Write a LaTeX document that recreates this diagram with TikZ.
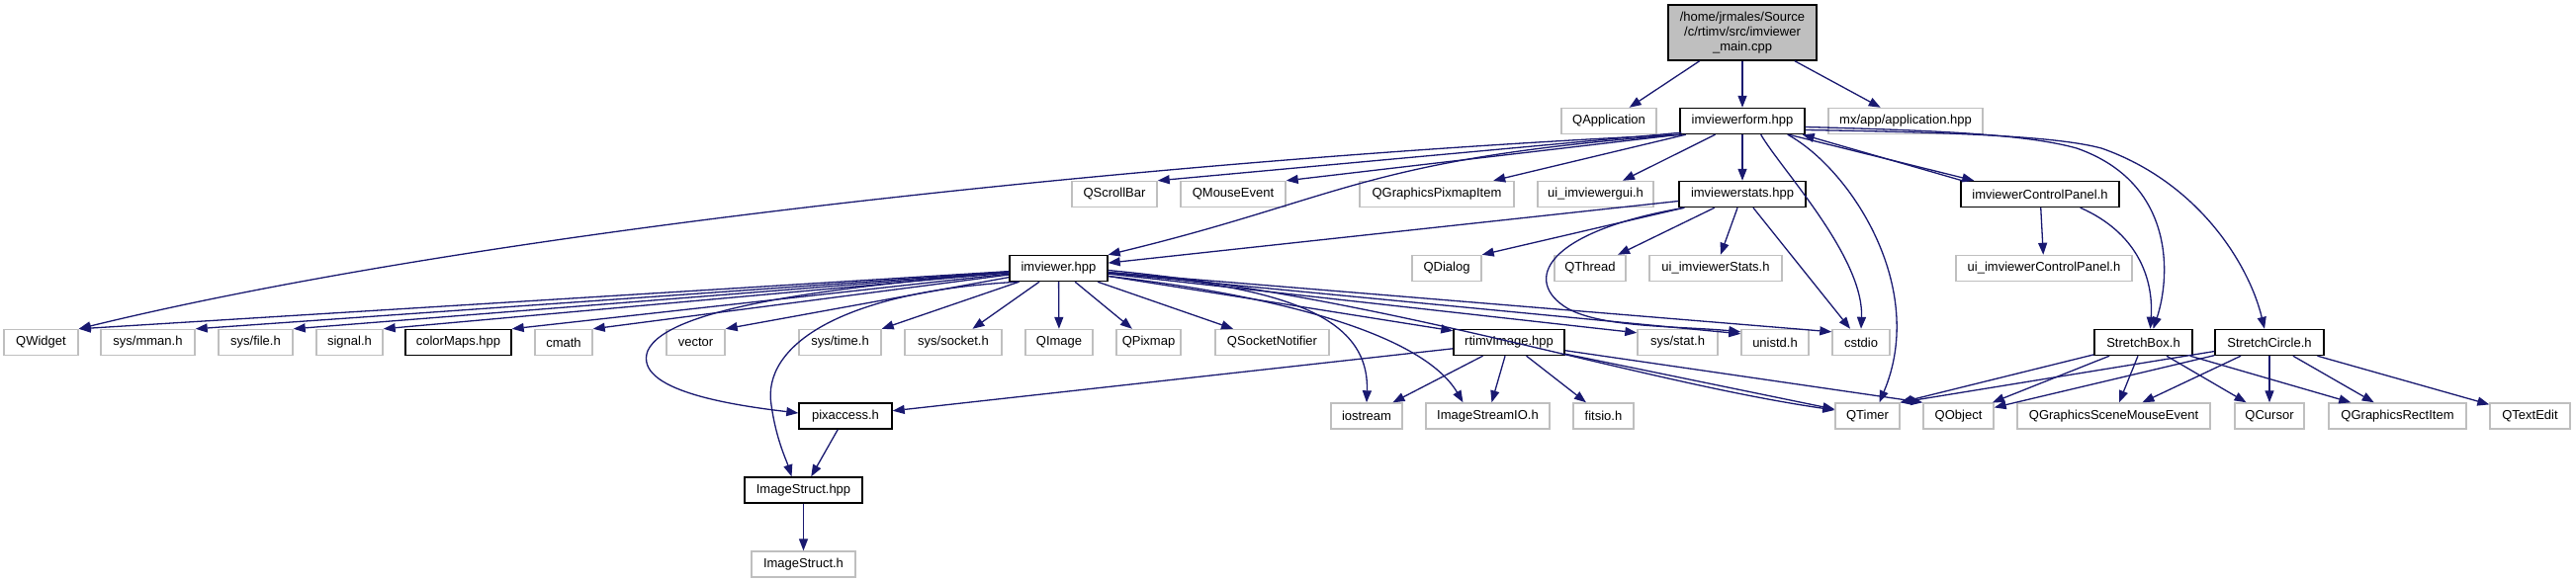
\documentclass[tikz,border=0pt]{standalone}
\usepackage{fontspec}
\setmainfont{Liberation Sans}
\usetikzlibrary{arrows.meta,calc}
\definecolor{edgeblue}{HTML}{191970}
\definecolor{greyline}{HTML}{BFBFBF}
\begin{document}
\begin{tikzpicture}[x=1pt,y=-1pt,
  box/.style={draw=black,line width=1.4pt,minimum height=26pt,inner sep=0pt,fill=white,font=\fontsize{13}{15}\selectfont},
  gbox/.style={box,draw=greyline},
  edge/.style={draw=edgeblue,line width=1.3pt,-{Triangle[length=12pt,width=9pt]}}]
\useasboundingbox (0,0) rectangle (2605,589);

% row 1
\node[box,fill=greyline,align=center,minimum width=150pt,minimum height=56pt] (main) at (1762,33) {/home/jrmales/Source\\/c/rtimv/src/imviewer\\\_main.cpp};
% row 2
\node[gbox,minimum width=96pt] (qapp) at (1627,122.5) {QApplication};
\node[box,minimum width=126pt] (form) at (1762,122.5) {imviewerform.hpp};
\node[gbox,minimum width=156pt] (mxapp) at (1927,122.5) {mx/app/application.hpp};
% row 3
\node[gbox,minimum width=86pt] (qscroll) at (1127,196.5) {QScrollBar};
\node[gbox,minimum width=106pt] (qmouse) at (1247,196.5) {QMouseEvent};
\node[gbox,minimum width=156pt] (qgpix) at (1453,196.5) {QGraphicsPixmapItem};
\node[gbox,minimum width=117pt] (uigui) at (1613.5,196.5) {ui\_imviewergui.h};
\node[box,minimum width=128pt] (stats) at (1762,196.5) {imviewerstats.hpp};
\node[box,minimum width=160pt] (cp) at (2063,196.5) {imviewerControlPanel.h};
% row 4
\node[box,minimum width=99pt] (imviewer) at (1070.5,271.5) {imviewer.hpp};
\node[gbox,minimum width=70pt] (qdialog) at (1463,271.5) {QDialog};
\node[gbox,minimum width=72pt] (qthread) at (1608,271.5) {QThread};
\node[gbox,minimum width=134pt] (uistats) at (1735,271.5) {ui\_imviewerStats.h};
\node[gbox,minimum width=178pt] (uicp) at (2067,271.5) {ui\_imviewerControlPanel.h};
% row 5
\node[gbox,minimum width=75pt] (qwidget) at (41.5,346.5) {QWidget};
\node[gbox,minimum width=95pt] (mman) at (149.5,346.5) {sys/mman.h};
\node[gbox,minimum width=75pt] (sysfile) at (258.5,346.5) {sys/file.h};
\node[gbox,minimum width=67pt] (signal) at (353.5,346.5) {signal.h};
\node[box,minimum width=107pt] (colormaps) at (463.5,346.5) {colorMaps.hpp};
\node[gbox,minimum width=58pt] (cmath) at (570,346.5) {cmath};
\node[gbox,minimum width=59pt] (vector) at (703.5,346.5) {vector};
\node[gbox,minimum width=83pt] (systime) at (849.5,346.5) {sys/time.h};
\node[gbox,minimum width=98pt] (syssocket) at (964,346.5) {sys/socket.h};
\node[gbox,minimum width=68pt] (qimage) at (1071,346.5) {QImage};
\node[gbox,minimum width=65pt] (qpixmap) at (1161.5,346.5) {QPixmap};
\node[gbox,minimum width=115pt] (qsock) at (1286.5,346.5) {QSocketNotifier};
\node[box,minimum width=112pt] (rtimv) at (1526,346.5) {rtimvImage.hpp};
\node[gbox,minimum width=81pt] (sysstat) at (1696.5,346.5) {sys/stat.h};
\node[gbox,minimum width=68pt] (unistd) at (1795,346.5) {unistd.h};
\node[gbox,minimum width=58pt] (cstdio) at (1882,346.5) {cstdio};
\node[box,minimum width=99pt] (sbox) at (2167.5,346.5) {StretchBox.h};
\node[box,minimum width=110pt] (scirc) at (2295,346.5) {StretchCircle.h};
% row 6
\node[box,minimum width=94pt] (pix) at (855,421) {pixaccess.h};
\node[gbox,minimum width=72pt] (iostream) at (1382,421) {iostream};
\node[gbox,minimum width=125pt] (isio) at (1504.5,421) {ImageStreamIO.h};
\node[gbox,minimum width=61pt] (fitsio) at (1621.5,421) {fitsio.h};
\node[gbox,minimum width=65pt] (qtimer) at (1888.5,421) {QTimer};
\node[gbox,minimum width=71pt] (qobject) at (1980.5,421) {QObject};
\node[gbox,minimum width=195pt] (qgsme) at (2137.5,421) {QGraphicsSceneMouseEvent};
\node[gbox,minimum width=70pt] (qcursor) at (2295,421) {QCursor};
\node[gbox,minimum width=139pt] (qgrect) at (2424.5,421) {QGraphicsRectItem};
\node[gbox,minimum width=81pt] (qtextedit) at (2558.5,421) {QTextEdit};
% row 7, 8
\node[box,minimum width=119pt] (isthpp) at (812.5,496) {ImageStruct.hpp};
\node[gbox,minimum width=105pt] (isth) at (812.5,571) {ImageStruct.h};

% main
\draw[edge] (main) -- (qapp);
\draw[edge] (main) -- (form);
\draw[edge] (main) -- (mxapp);
% imviewerform.hpp
\draw[edge] (form.south west) .. controls (1200,160) and (500,230) .. (qwidget.north east);
\draw[edge] ($(form.south west)+(2,-2)$) -- (qscroll.north east);
\draw[edge] (form.south west) -- (qmouse.north east);
\draw[edge] (form) -- (qgpix);
\draw[edge] (form) -- (uigui);
\draw[edge] (form) -- (stats);
\draw[edge] ($(form.south west)+(3,0)$) .. controls (1380,160) and (1360,200) .. (imviewer.north east);
\draw[edge] ($(form.south east)+(-45,0)$) .. controls (1800,170) and (1885,260) .. (cstdio.north);
\draw[edge] ($(form.south east)+(-18,0)$) .. controls (1870,170) and (1950,290) .. ($(qtimer.north)+(12,0)$);
\draw[edge] ($(form.south east)+(-17,0)$) -- ($(cp.north west)+(14,0)$);
\draw[edge] ($(form.east)+(0,6)$) .. controls (1960,132) and (2050,136) .. (2100,150) .. controls (2200,185) and (2195,280) .. ($(sbox.north)+(10,0)$);
\draw[edge] ($(form.east)+(0,9)$) .. controls (1980,134) and (2080,138) .. (2125,150) .. controls (2225,185) and (2275,270) .. ($(scirc.north)+(-5,0)$);
% imviewerstats.hpp
\draw[edge] (stats) -- (imviewer);
\draw[edge] (stats) -- (qdialog.north east);
\draw[edge] (stats) -- (qthread);
\draw[edge] (stats) -- (uistats);
\draw[edge] (stats) -- (cstdio);
\draw[edge] ($(stats.south west)+(6,0)$) .. controls (1560,235) and (1540,285) .. (1585,312) .. controls (1620,332) and (1700,330) .. ($(unistd.north west)+(0,3)$);
% imviewerControlPanel.h
\draw[edge] ($(cp.north west)+(2,0)$) -- ($(form.south east)+(-3,0)$);
\draw[edge] (cp) -- (uicp);
\draw[edge] ($(cp.south east)+(-40,0)$) .. controls (2160,235) and (2178,280) .. ($(sbox.north)+(7,0)$);
% imviewer.hpp
\draw[edge] (imviewer) -- (qwidget.north east);
\draw[edge] (imviewer) -- (mman.north east);
\draw[edge] (imviewer) -- (sysfile.north east);
\draw[edge] (imviewer) -- (signal.north east);
\draw[edge] (imviewer) -- (colormaps.north east);
\draw[edge] (imviewer) -- (cmath.north east);
\draw[edge] (imviewer) -- (vector.north east);
\draw[edge] (imviewer) -- (systime.north east);
\draw[edge] (imviewer) -- (syssocket);
\draw[edge] (imviewer) -- (qimage);
\draw[edge] (imviewer) -- (qpixmap);
\draw[edge] (imviewer) -- (qsock);
\draw[edge] (imviewer) -- ($(rtimv.north west)+(0,2)$);
\draw[edge] (imviewer) -- ($(sysstat.north west)+(0,4)$);
\draw[edge] (imviewer) -- ($(unistd.north west)+(0,5)$);
\draw[edge] (imviewer) -- ($(cstdio.north west)+(0,3)$);
\draw[edge] ($(imviewer.east)+(0,4)$) .. controls (1300,290) and (1385,320) .. (iostream.north);
\draw[edge] ($(imviewer.east)+(0,8)$) .. controls (1300,300) and (1440,340) .. ($(isio.north)+(-25,0)$);
\draw[edge] ($(imviewer.east)+(0,2)$) .. controls (1400,300) and (1650,385) .. ($(qtimer.west)+(0,-6)$);
\draw[edge] ($(imviewer.west)+(0,4)$) .. controls (850,290) and (675,310) .. (655,355) .. controls (640,395) and (740,410) .. ($(pix.west)+(0,-3)$);
\draw[edge] ($(imviewer.south west)+(10,0)$) .. controls (850,295) and (770,350) .. (780,410) .. controls (785,445) and (795,465) .. ($(isthpp.north)+(-12,0)$);
% rtimvImage.hpp
\draw[edge] (rtimv) -- (pix);
\draw[edge] (rtimv) -- (iostream);
\draw[edge] (rtimv) -- (isio);
\draw[edge] (rtimv) -- (fitsio);
\draw[edge] (rtimv) -- (qtimer);
\draw[edge] (rtimv) -- (qobject.north west);
% pixaccess / ImageStruct
\draw[edge] (pix) -- (isthpp);
\draw[edge] (isthpp) -- (isth);
% StretchBox.h
\draw[edge] (sbox) -- (qtimer.north east);
\draw[edge] (sbox) -- (qobject);
\draw[edge] (sbox) -- (qgsme);
\draw[edge] (sbox) -- (qcursor);
\draw[edge] (sbox) -- (qgrect);
% StretchCircle.h
\draw[edge] (scirc) -- (qtimer.north east);
\draw[edge] (scirc) -- (qobject);
\draw[edge] (scirc) -- (qgsme);
\draw[edge] (scirc) -- (qcursor);
\draw[edge] (scirc) -- (qgrect);
\draw[edge] (scirc) -- (qtextedit);
\end{tikzpicture}
\end{document}
